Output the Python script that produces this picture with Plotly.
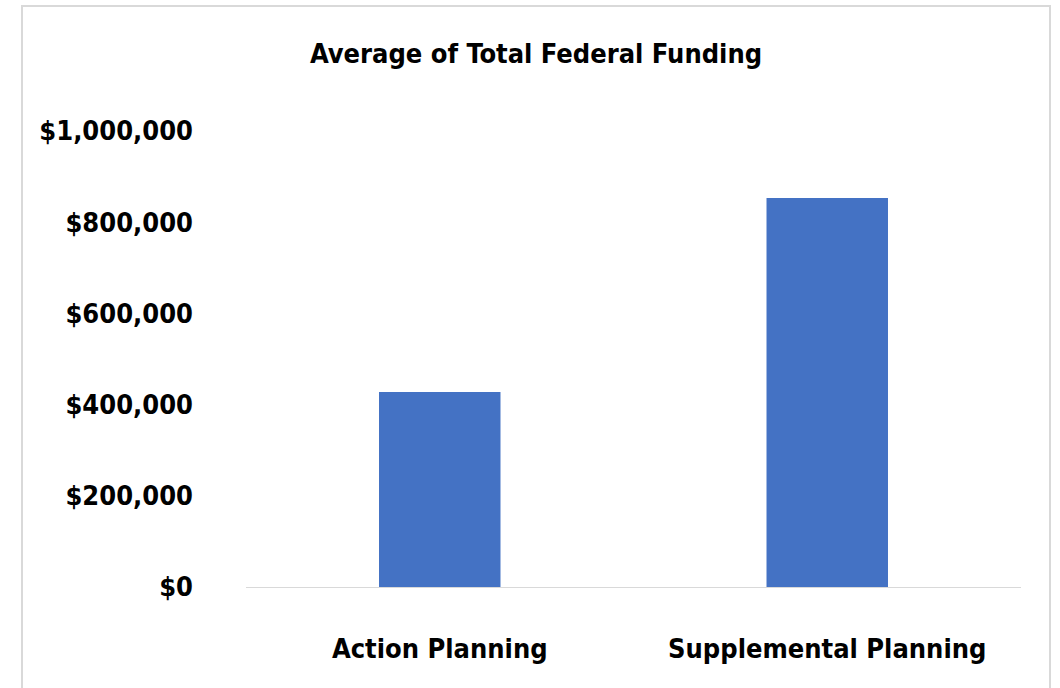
import plotly.graph_objects as go

categories = ["Action Planning", "Supplemental Planning"]
avg_funding = [427600, 853000]
tick_values = [0, 200000, 400000, 600000, 800000, 1000000]
tick_labels = ["$0", "$200,000", "$400,000", "$600,000", "$800,000", "$1,000,000"]
title_text = "Average of Total Federal Funding"

FONT = "DejaVu Sans Condensed, Liberation Sans Narrow, sans-serif"

fig = go.Figure(
    go.Bar(
        x=categories,
        y=avg_funding,
        marker=dict(color="#4472C4", line=dict(width=0)),
    )
)

fig.update_layout(
    width=1060,
    height=688,
    margin=dict(l=246, r=39, t=131, b=101, autoexpand=False),
    paper_bgcolor="white",
    plot_bgcolor="white",
    bargap=0.6865,
    showlegend=False,
    title=dict(
        text="<b>" + title_text + "</b>",
        x=536 / 1060,
        xanchor="center",
        xref="container",
        y=1 - 54 / 688,
        yanchor="middle",
        yref="container",
        font=dict(family=FONT, size=27, color="#000000"),
    ),
    font=dict(family=FONT, color="#000000"),
)

fig.update_xaxes(
    automargin=False,
    showgrid=False,
    showline=True,
    linecolor="#d9d9d9",
    linewidth=1,
    ticks="",
    ticklabelstandoff=38,
    tickfont=dict(family=FONT, size=27, color="#000000", weight="bold"),
    zeroline=False,
)

fig.update_yaxes(
    automargin=False,
    range=[0, 1000000],
    tickvals=tick_values,
    ticktext=tick_labels,
    showgrid=False,
    showline=False,
    zeroline=False,
    ticks="",
    ticklabelstandoff=52,
    tickfont=dict(family=FONT, size=27, color="#000000", weight="bold"),
)

# outer chart border
fig.add_shape(
    type="rect",
    xref="paper",
    yref="paper",
    x0=(22 - 246) / 775,
    x1=(1050 - 246) / 775,
    y0=(587 - 720) / 456,
    y1=(587 - 6) / 456,
    line=dict(color="#d9d9d9", width=2),
    fillcolor="rgba(0,0,0,0)",
    layer="below",
)

fig.write_html("out.html")
